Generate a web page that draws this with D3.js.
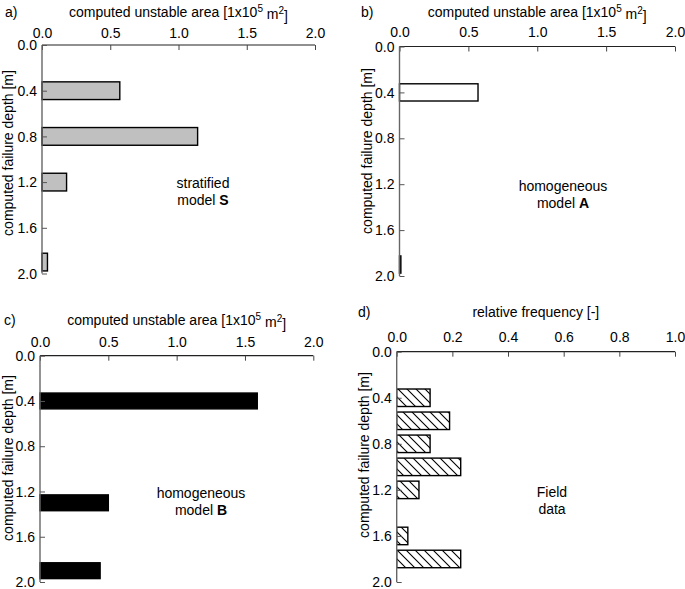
<!DOCTYPE html>
<html><head><meta charset="utf-8">
<script src="https://cdn.jsdelivr.net/npm/d3@7"></script>
<style>body{margin:0;background:#fff}svg{display:block}text{font-family:"Liberation Sans",Arial,sans-serif;fill:#000}</style>
</head><body><svg id="c" width="685" height="589"></svg>
<script>
// ---- data ----
const areaTicks = [0, 0.5, 1.0, 1.5, 2.0];
const freqTicks = [0, 0.2, 0.4, 0.6, 0.8, 1.0];
const depthTicks = [0, 0.4, 0.8, 1.2, 1.6, 2.0];

const depthS = [0.4, 0.8, 1.2, 1.9];
const areaS  = [0.57, 1.14, 0.18, 0.04];

const depthA = [0.4, 1.9];
const areaA  = [0.57, 0.01];

const depthB = [0.4, 1.3, 1.9];
const areaB  = [1.59, 0.50, 0.44];

const depthField = [0.4, 0.6, 0.8, 1.0, 1.2, 1.6, 1.8];
const freqField  = [0.12, 0.19, 0.12, 0.23, 0.08, 0.04, 0.23];

const areaTitle = "computed unstable area";
const freqTitle = "relative frequency [-]";
const yTitle = "computed failure depth [m]";

const svg = d3.select("#c");
const defs = svg.append("defs");
const pat = defs.append("pattern").attr("id","hatch").attr("patternUnits","userSpaceOnUse")
  .attr("width",9).attr("height",9);
pat.append("rect").attr("width",9).attr("height",9).attr("fill","#fff");
pat.append("path").attr("d","M0,0L9,9M-2,7L2,11M7,-2L11,2").attr("stroke","#000").attr("stroke-width",1.1);

const panels = [
  {letter:"a)", lx:5, x0:42, x1:315, y0:45, y1:273.5, titleY:12, tickY:33, depth:depthS, vals:areaS, ticks:areaTicks, max:2, fill:"#c0c0c0", title:"area", ylx:8, yly:153, ann:["stratified","model ","S"], annX:203, annY:183, bh:0.155},
  {letter:"b)", lx:361, x0:399.5, x1:675, y0:46.5, y1:276, titleY:12, tickY:32, depth:depthA, vals:areaA, ticks:areaTicks, max:2, fill:"#fff", title:"area", ylx:367, yly:151, ann:["homogeneous","model ","A"], annX:563, annY:186, bh:0.15},
  {letter:"c)", lx:4, x0:40, x1:313.3, y0:355.7, y1:582, titleY:320, tickY:342, depth:depthB, vals:areaB, ticks:areaTicks, max:2, fill:"#000", title:"area", ylx:8, yly:458, ann:["homogeneous","model ","B"], annX:201, annY:493, bh:0.14},
  {letter:"d)", lx:358, x0:396.7, x1:675, y0:351.7, y1:582, titleY:312, tickY:337, depth:depthField, vals:freqField, ticks:freqTicks, max:1, fill:"url(#hatch)", title:"freq", ylx:364, yly:455, ann:["Field","data",""], annX:552, annY:492, bh:0.152}
];

panels.forEach(p => {
  const g = svg.append("g");
  const x = d3.scaleLinear().domain([0, p.max]).range([p.x0, p.x1]);
  const y = d3.scaleLinear().domain([0, 2]).range([p.y0, p.y1]);

  // bars
  g.selectAll("rect.bar").data(p.depth.map((d,i)=>({d, v:p.vals[i]}))).join("rect")
    .attr("x", x(0)).attr("y", d => y(d.d - p.bh/2))
    .attr("width", d => x(d.v) - x(0)).attr("height", d => y(p.bh) - y(0))
    .attr("fill", p.fill).attr("stroke","#000").attr("stroke-width",1.4);

  // top axis
  const xa = g.append("g").attr("transform",`translate(0,${p.y0})`)
    .call(d3.axisTop(x).tickValues(p.ticks).tickSize(-5).tickFormat(d3.format(".1f")).tickPadding(0));
  xa.select(".domain").attr("stroke","#222").attr("stroke-width",1.2).attr("d",`M${p.x0},0H${p.x1}`);
  xa.selectAll(".tick line").attr("stroke","#444");
  xa.selectAll(".tick text").attr("y", p.tickY - p.y0).attr("dy","0.35em")
    .style("font-size","14px").style("font-family","'Liberation Sans',Arial,sans-serif").attr("fill","#000");

  // left axis
  const ya = g.append("g").attr("transform",`translate(${p.x0},0)`)
    .call(d3.axisLeft(y).tickValues(depthTicks).tickSize(-5).tickFormat(d3.format(".1f")).tickPadding(6));
  ya.select(".domain").attr("stroke","#666").attr("stroke-width",1.4).attr("d",`M0,${p.y0}V${p.y1}`);
  ya.selectAll(".tick line").attr("stroke","#555");
  ya.selectAll(".tick text").attr("x",-5).attr("dy","0.33em")
    .style("font-size","14px").style("font-family","'Liberation Sans',Arial,sans-serif").attr("fill","#000");

  // panel letter
  g.append("text").attr("x",p.lx).attr("y",p.titleY).attr("dy","0.35em").style("font-size","14px").text(p.letter);

  // x title
  const tx = g.append("text").attr("x",(p.x0+p.x1)/2).attr("y",p.titleY).attr("dy","0.35em")
    .attr("text-anchor","middle").style("font-size","14px");
  if (p.title === "area") {
    tx.append("tspan").text(areaTitle + " [1x10");
    tx.append("tspan").attr("dy","-0.5em").style("font-size","10px").text("5");
    tx.append("tspan").attr("dy","0.5em").text(" m");
    tx.append("tspan").attr("dy","-0.5em").style("font-size","10px").text("2");
    tx.append("tspan").attr("dy","0.5em").text("]");
  } else {
    tx.text(freqTitle);
  }

  // y title
  g.append("text").attr("transform",`translate(${p.ylx},${p.yly}) rotate(-90)`)
    .attr("text-anchor","middle").attr("dy","0.35em").style("font-size","14px").text(yTitle);

  // annotation
  g.append("text").attr("x",p.annX).attr("y",p.annY).attr("dy","0.35em").attr("text-anchor","middle")
    .style("font-size","14px").text(p.ann[0]);
  const t2 = g.append("text").attr("x",p.annX).attr("y",p.annY+17).attr("dy","0.35em").attr("text-anchor","middle")
    .style("font-size","14px");
  t2.append("tspan").text(p.ann[1]);
  if (p.ann[2]) t2.append("tspan").style("font-weight","bold").text(p.ann[2]);
});
</script></body></html>
